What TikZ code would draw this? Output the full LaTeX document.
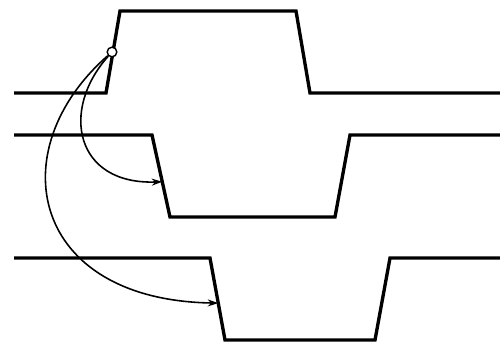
\documentclass[tikz,border=0pt]{standalone}
\usetikzlibrary{arrows.meta,calc}

\begin{document}
\begin{tikzpicture}[x=0.02cm, y=-0.02cm,
    wave/.style={line width=1.9pt, line join=miter},
    arr/.style={-{Stealth[length=6pt, width=4pt]}, line width=0.9pt},
    dot/.style={circle, draw, fill=white, line width=0.8pt, inner sep=0pt, minimum size=5.5pt}
]
\useasboundingbox (0,0) rectangle (500,349);

% waveforms
\draw[wave] (14,93) -- (106,93) -- (120,11) -- (296,11) -- (310,93) -- (500,93);
\draw[wave] (14,135) -- (152,135) -- (170,217) -- (335,217) -- (350,135) -- (500,135);
\draw[wave] (14,258) -- (210,258) -- (225,340) -- (375,340) -- (390,258) -- (500,258);

% trigger point and targets
\node[dot] (src) at (112,52) {};
\coordinate (e2) at ($(152,135)!0.57!(170,217)$);
\coordinate (e3) at ($(210,258)!0.55!(225,340)$);

\draw[arr] (src) .. controls (60,110) and (75,185) .. (e2);
\draw[arr] (src) .. controls (0,150) and (30,300) .. (e3);
\end{tikzpicture}
\end{document}
